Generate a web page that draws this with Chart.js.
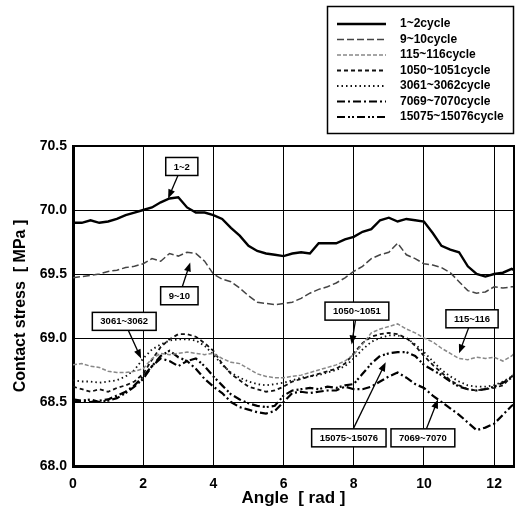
<!DOCTYPE html>
<html>
<head>
<meta charset="utf-8">
<script src="https://cdn.jsdelivr.net/npm/chart.js@4.4.0/dist/chart.umd.min.js"></script>
<style>
  html, body { margin: 0; padding: 0; background: #fff; }
</style>
</head>
<body>
<canvas id="myChart" width="516" height="518"></canvas>
<script>
// angle values (rad), shared by every series
const angles = [0, 0.25, 0.5, 0.75, 1, 1.25, 1.5, 1.75, 2, 2.25, 2.5, 2.75, 3, 3.25, 3.5, 3.75,
    4, 4.25, 4.5, 4.75, 5, 5.25, 5.5, 5.75, 6, 6.25, 6.5, 6.75, 7, 7.25, 7.5, 7.75,
    8, 8.25, 8.5, 8.75, 9, 9.25, 9.5, 9.75, 10, 10.25, 10.5, 10.75, 11, 11.25, 11.5, 11.75,
    12, 12.25, 12.5, 12.57];

// contact stress (MPa)
const cycle1_2 = [69.90, 69.90, 69.92, 69.90, 69.91, 69.93, 69.96, 69.98, 70.00, 70.02, 70.06, 70.09, 70.10, 70.02, 69.98, 69.98,
    69.96, 69.93, 69.86, 69.80, 69.72, 69.68, 69.66, 69.65, 69.64, 69.66, 69.67, 69.66, 69.74, 69.74, 69.74, 69.77,
    69.79, 69.83, 69.85, 69.92, 69.94, 69.91, 69.93, 69.92, 69.91, 69.82, 69.72, 69.69, 69.67, 69.56, 69.50, 69.48,
    69.50, 69.51, 69.54, 69.53];
const cycle9_10 = [69.47, 69.48, 69.49, 69.50, 69.52, 69.53, 69.55, 69.56, 69.58, 69.62, 69.60, 69.66, 69.64, 69.67, 69.66, 69.60,
    69.50, 69.46, 69.44, 69.39, 69.33, 69.28, 69.27, 69.26, 69.27, 69.28, 69.31, 69.35, 69.38, 69.40, 69.43, 69.47,
    69.52, 69.56, 69.62, 69.65, 69.67, 69.74, 69.65, 69.62, 69.58, 69.57, 69.55, 69.51, 69.44, 69.37, 69.35, 69.36,
    69.40, 69.39, 69.40, 69.40];
const cycle115_116 = [68.79, 68.80, 68.78, 68.77, 68.74, 68.73, 68.73, 68.74, 68.76, 68.84, 68.88, 68.87, 68.88, 68.89, 68.88, 68.87,
    68.88, 68.84, 68.81, 68.80, 68.76, 68.72, 68.70, 68.69, 68.69, 68.70, 68.71, 68.73, 68.75, 68.77, 68.79, 68.82,
    68.87, 68.95, 69.04, 69.07, 69.09, 69.11, 69.07, 69.04, 69.00, 68.97, 68.92, 68.88, 68.84, 68.83, 68.85, 68.84,
    68.85, 68.82, 68.86, 68.88];
const cycle1050_1051 = [68.62, 68.60, 68.58, 68.60, 68.58, 68.61, 68.63, 68.66, 68.72, 68.83, 68.93, 68.99, 69.03, 69.03, 69.01, 68.96,
    68.90, 68.80, 68.72, 68.67, 68.62, 68.60, 68.58, 68.59, 68.62, 68.66, 68.68, 68.70, 68.72, 68.74, 68.76, 68.80,
    68.88, 68.96, 69.01, 69.03, 69.04, 69.03, 69.00, 68.94, 68.86, 68.79, 68.73, 68.67, 68.63, 68.60, 68.59, 68.60,
    68.61, 68.63, 68.70, 68.72];
const cycle3061_3062 = [68.67, 68.66, 68.66, 68.65, 68.66, 68.67, 68.70, 68.75, 68.84, 68.91, 68.95, 68.98, 68.99, 68.99, 68.98, 68.94,
    68.87, 68.79, 68.73, 68.69, 68.66, 68.64, 68.63, 68.64, 68.65, 68.67, 68.69, 68.70, 68.71, 68.73, 68.75, 68.78,
    68.84, 68.91, 68.97, 69.00, 69.02, 69.02, 69.00, 68.95, 68.89, 68.82, 68.75, 68.70, 68.66, 68.63, 68.62, 68.62,
    68.63, 68.66, 68.70, 68.72];
const cycle7069_7070 = [68.50, 68.51, 68.50, 68.51, 68.52, 68.55, 68.58, 68.63, 68.70, 68.78, 68.84, 68.82, 68.78, 68.82, 68.76, 68.68,
    68.62, 68.57, 68.50, 68.46, 68.44, 68.42, 68.41, 68.43, 68.50, 68.57, 68.58, 68.57, 68.58, 68.59, 68.59, 68.62,
    68.60, 68.60, 68.62, 68.66, 68.70, 68.73, 68.69, 68.64, 68.61, 68.55, 68.50, 68.45, 68.40, 68.34, 68.28, 68.30,
    68.33, 68.40, 68.47, 68.48];
const cycle15075_15076 = [68.52, 68.51, 68.52, 68.50, 68.51, 68.53, 68.57, 68.62, 68.68, 68.78, 68.86, 68.90, 68.85, 68.82, 68.84, 68.78,
    68.70, 68.63, 68.56, 68.52, 68.49, 68.47, 68.46, 68.47, 68.55, 68.59, 68.60, 68.61, 68.60, 68.62, 68.61, 68.63,
    68.64, 68.72, 68.80, 68.86, 68.88, 68.89, 68.89, 68.86, 68.79, 68.75, 68.71, 68.66, 68.62, 68.60, 68.59, 68.60,
    68.62, 68.65, 68.69, 68.70];

const seriesNames = ['1~2cycle', '9~10cycle', '115~116cycle', '1050~1051cycle',
    '3061~3062cycle', '7069~7070cycle', '15075~15076cycle'];

const xTicks = [0, 2, 4, 6, 8, 10, 12];
const yTicks = [68.0, 68.5, 69.0, 69.5, 70.0, 70.5];

// callout labels: box centre (x, y) and arrow tip (tx, ty) in data units
const notes = [
    { text: '1~2', x: 3.1, y: 70.34, tx: 2.71, ty: 70.09 },
    { text: '9~10', x: 3.03, y: 69.33, tx: 3.34, ty: 69.59 },
    { text: '3061~3062', x: 1.46, y: 69.13, tx: 1.94, ty: 68.84 },
    { text: '1050~1051', x: 8.09, y: 69.21, tx: 7.94, ty: 68.95 },
    { text: '115~116', x: 11.37, y: 69.15, tx: 11.0, ty: 68.88 },
    { text: '15075~15076', x: 7.86, y: 68.22, tx: 8.91, ty: 68.81 },
    { text: '7069~7070', x: 9.97, y: 68.22, tx: 10.4, ty: 68.52 }
];

const FONT = '"Liberation Sans", Arial, sans-serif';

function pts(values) {
    return values.map((v, i) => ({ x: angles[i], y: v }));
}

const styles = [
    { color: '#000', width: 2.4, dash: [] },
    { color: '#444', width: 1.5, dash: [7, 3] },
    { color: '#888', width: 1.5, dash: [4, 2] },
    { color: '#111', width: 1.8, dash: [4, 3] },
    { color: '#111', width: 1.8, dash: [1.5, 3] },
    { color: '#000', width: 2.2, dash: [8, 3, 2, 3] },
    { color: '#000', width: 2.2, dash: [8, 3, 2, 2, 2, 3] }
];
const allSeries = [cycle1_2, cycle9_10, cycle115_116, cycle1050_1051, cycle3061_3062, cycle7069_7070, cycle15075_15076];

// legend box in the top right corner
const legendBox = {
    id: 'legendBox',
    afterDraw(chart) {
        const ctx = chart.ctx;
        ctx.save();
        ctx.strokeStyle = '#000';
        ctx.lineWidth = 1.5;
        ctx.strokeRect(327.5, 6.5, 186, 127);
        ctx.font = 'bold 12px ' + FONT;
        ctx.textBaseline = 'middle';
        ctx.fillStyle = '#000';
        chart.data.datasets.forEach((ds, i) => {
            const yy = 24 + i * 15.5;
            ctx.beginPath();
            ctx.setLineDash(ds.borderDash);
            ctx.lineWidth = ds.borderWidth;
            ctx.strokeStyle = ds.borderColor;
            ctx.moveTo(337, yy);
            ctx.lineTo(386, yy);
            ctx.stroke();
            ctx.setLineDash([]);
            ctx.fillText(ds.label, 400, yy);
        });
        ctx.restore();
    }
};

// top/right frame and the callout boxes with arrows
const callouts = {
    id: 'callouts',
    afterDatasetsDraw(chart) {
        const { ctx, chartArea: a, scales: { x, y } } = chart;
        ctx.save();
        ctx.strokeStyle = '#000';
        ctx.lineWidth = 2;
        ctx.beginPath();
        ctx.moveTo(a.left, a.top);
        ctx.lineTo(a.right, a.top);
        ctx.lineTo(a.right, a.bottom);
        ctx.stroke();

        ctx.font = 'bold 9.5px ' + FONT;
        ctx.textAlign = 'center';
        ctx.textBaseline = 'middle';
        notes.forEach(n => {
            const cx = x.getPixelForValue(n.x), cy = y.getPixelForValue(n.y);
            const tx = x.getPixelForValue(n.tx), ty = y.getPixelForValue(n.ty);
            const w = ctx.measureText(n.text).width + 16, h = 18;
            const dx = tx - cx, dy = ty - cy;
            const s = Math.min(dx ? Math.abs(w / 2 / dx) : Infinity, dy ? Math.abs(h / 2 / dy) : Infinity);
            const sx = cx + dx * s, sy = cy + dy * s;
            const ang = Math.atan2(ty - sy, tx - sx);
            ctx.strokeStyle = '#000';
            ctx.lineWidth = 1.3;
            ctx.beginPath();
            ctx.moveTo(sx, sy);
            ctx.lineTo(tx - 6 * Math.cos(ang), ty - 6 * Math.sin(ang));
            ctx.stroke();
            ctx.fillStyle = '#000';
            ctx.beginPath();
            ctx.moveTo(tx, ty);
            ctx.lineTo(tx - 9 * Math.cos(ang) + 3.5 * Math.sin(ang), ty - 9 * Math.sin(ang) - 3.5 * Math.cos(ang));
            ctx.lineTo(tx - 9 * Math.cos(ang) - 3.5 * Math.sin(ang), ty - 9 * Math.sin(ang) + 3.5 * Math.cos(ang));
            ctx.closePath();
            ctx.fill();
            ctx.fillStyle = '#fff';
            ctx.fillRect(cx - w / 2, cy - h / 2, w, h);
            ctx.lineWidth = 1.5;
            ctx.strokeRect(cx - w / 2, cy - h / 2, w, h);
            ctx.fillStyle = '#000';
            ctx.fillText(n.text, cx, cy + 0.5);
        });
        ctx.restore();
    }
};

const ctx = document.getElementById('myChart').getContext('2d');
const chart = new Chart(ctx, {
    type: 'line',
    data: {
        datasets: allSeries.map((vals, i) => ({
            label: seriesNames[i],
            data: pts(vals),
            borderColor: styles[i].color,
            borderWidth: styles[i].width,
            borderDash: styles[i].dash,
            pointRadius: 0,
            tension: 0,
            fill: false
        }))
    },
    options: {
        responsive: false,
        animation: false,
        layout: { padding: { top: 146, right: 2, left: 0, bottom: 0 } },
        plugins: {
            legend: { display: false },
            tooltip: { enabled: false }
        },
        scales: {
            x: {
                type: 'linear',
                min: 0,
                max: 12.566,
                afterBuildTicks: s => { s.ticks = xTicks.map(v => ({ value: v })); },
                afterFit: s => { s.height = 52; },
                grid: { color: '#000', lineWidth: 1, drawTicks: false },
                border: { color: '#000', width: 3 },
                ticks: {
                    color: '#000',
                    padding: 10,
                    maxRotation: 0,
                    font: { family: FONT, size: 14, weight: 'bold' }
                },
                title: {
                    display: true,
                    text: 'Angle  [ rad ]',
                    color: '#000',
                    padding: { top: 0, bottom: 9 },
                    font: { family: FONT, size: 17, weight: 'bold' }
                }
            },
            y: {
                min: 68.0,
                max: 70.5,
                afterBuildTicks: s => { s.ticks = yTicks.map(v => ({ value: v })); },
                afterFit: s => { s.width = 73; },
                grid: { color: '#000', lineWidth: 1, drawTicks: false },
                border: { color: '#000', width: 3 },
                ticks: {
                    color: '#000',
                    padding: 6,
                    callback: v => v.toFixed(1),
                    font: { family: FONT, size: 14, weight: 'bold' }
                },
                title: {
                    display: true,
                    text: 'Contact stress  [ MPa ]',
                    color: '#000',
                    padding: { top: 11, bottom: 0 },
                    font: { family: FONT, size: 16, weight: 'bold' }
                }
            }
        }
    },
    plugins: [legendBox, callouts]
});
</script>
</body>
</html>
